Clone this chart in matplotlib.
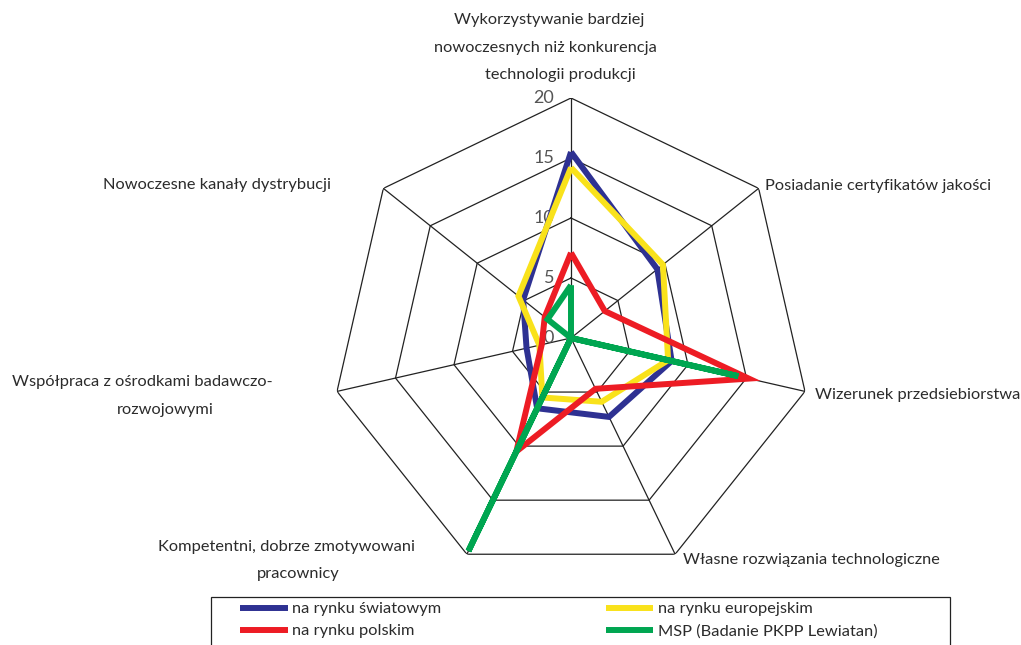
import numpy as np
import matplotlib
matplotlib.use("Agg")
import matplotlib.pyplot as plt
from matplotlib.patches import Rectangle
from matplotlib.lines import Line2D

# axis labels (one list item per axis, lines split by \n)
categories = [
    "Wykorzystywanie bardziej\nnowoczesnych niż konkurencja\ntechnologii produkcji",
    "Posiadanie certyfikatów jakości",
    "Wizerunek przedsiebiorstwa",
    "Własne rozwiązania technologiczne",
    "Kompetentni, dobrze zmotywowani\npracownicy",
    "Współpraca z ośrodkami badawczo-\nrozwojowymi",
    "Nowoczesne kanały dystrybucji",
]
swiat = [15.5, 9.2, 8.6, 7.3, 6.5, 3.8, 5.1]
europa = [14.2, 9.8, 8.3, 5.9, 5.5, 2.7, 5.6]
polska = [7.1, 3.6, 15.2, 4.7, 10.5, 2.5, 2.8]
msp = [4.4, 0.0, 14.3, 0.0, 19.7, 0.0, 2.5]
series_names = ["na rynku światowym", "na rynku europejskim",
                "na rynku polskim", "MSP (Badanie PKPP Lewiatan)"]
ticks = [0, 5, 10, 15, 20]

colors = ["#2E3192", "#F9E21B", "#ED1C24", "#00A651"]
W, H = 1021, 645
plt.rcParams["font.family"] = ["Lato", "DejaVu Sans"]
txt = dict(color="#2b2b2b", fontsize=11.8)


def fx(x):
    return x / W


def fy(y):
    return 1 - y / H


fig = plt.figure(figsize=(W / 100, H / 100), dpi=100)
cx, cy, R = 571, 338, 240
ax = fig.add_axes([fx(cx - R), fy(cy + R), 2 * R / W, 2 * R / H], projection="polar")
ax.set_theta_offset(np.pi / 2)
ax.set_theta_direction(-1)
ax.set_ylim(0, 20)
ax.axis("off")

n = len(categories)
ang = np.linspace(0, 2 * np.pi, n, endpoint=False)
closed = np.append(ang, ang[0])

# heptagon grid
for t in ticks[1:]:
    ax.plot(closed, [t] * (n + 1), color="#222222", lw=0.9, zorder=1)
for a in ang:
    ax.plot([a, a], [0, 20], color="#222222", lw=0.9, zorder=1)
for t in ticks:
    ax.annotate(str(t), (0, t), xytext=(-12, 0), textcoords="offset points",
                ha="right", va="center", color="#555555", fontsize=13)

for vals, c in zip([swiat, europa, polska, msp], colors):
    ax.plot(closed, vals + vals[:1], color=c, lw=4.3, zorder=3,
            solid_joinstyle="miter", solid_capstyle="butt")

# label positions (pixel centers of each line)
label_pos = [
    [(549, 20, "center"), (545, 48, "center"), (560, 75, "center")],
    [(765, 186, "left")],
    [(815, 395, "left")],
    [(683, 560, "left")],
    [(286, 547, "center"), (298, 574, "center")],
    [(142, 382, "center"), (165, 410, "center")],
    [(103, 185, "left")],
]
for lab, pos in zip(categories, label_pos):
    for line, (x, y, ha) in zip(lab.split("\n"), pos):
        fig.text(fx(x), fy(y), line, ha=ha, va="center", **txt)

# legend box
fig.patches.append(Rectangle((fx(211), fy(660)), fx(950) - fx(211), fy(597) - fy(660),
                             transform=fig.transFigure, fill=False,
                             edgecolor="#222222", lw=0.9))
order = [0, 2, 1, 3]
handles = [Line2D([], [], color=colors[i], lw=4.3, solid_capstyle="butt") for i in order]
leg = fig.legend(handles, [series_names[i] for i in order], ncol=2, frameon=False,
                 loc="upper left", bbox_to_anchor=(fx(240), fy(602)),
                 handlelength=2.9, handletextpad=0.3, columnspacing=10.0,
                 labelspacing=0.45, borderaxespad=0, borderpad=0,
                 prop=dict(family=["Lato", "DejaVu Sans"], size=11.8))
for t in leg.get_texts():
    t.set_color("#2b2b2b")

fig.savefig("out.png", dpi=100)
